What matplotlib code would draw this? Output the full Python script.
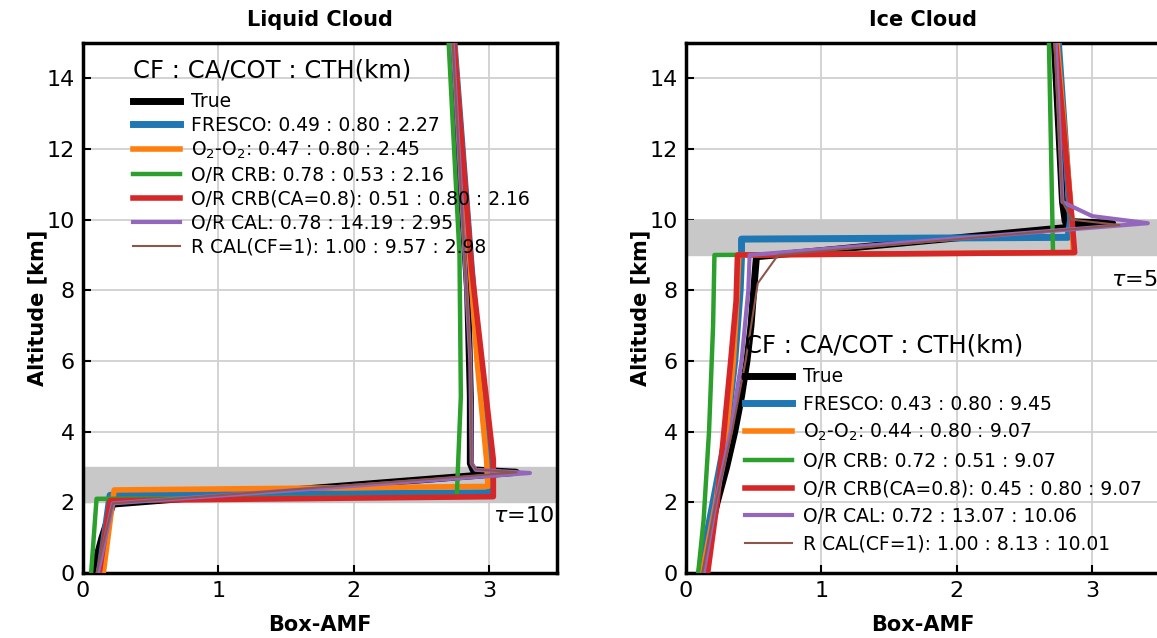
import numpy as np
import matplotlib
matplotlib.use('Agg')
import matplotlib.pyplot as plt

plt.rcParams['font.family'] = ['DejaVu Sans']

# 液态云 Box-AMF 廓线
liq_true_alt = [0, 1.0, 1.95, 2.85, 2.92, 3.1, 5, 8, 11, 15]
liq_true_amf = [0.07, 0.14, 0.22, 3.2, 2.88, 2.86, 2.86, 2.84, 2.79, 2.73]
liq_fresco_alt = [0, 2.2, 2.27, 3.0, 6, 15]
liq_fresco_amf = [0.12, 0.2, 3.0, 3.0, 2.92, 2.74]
liq_o2o2_alt = [0, 2.35, 2.45, 3.2, 6, 15]
liq_o2o2_amf = [0.15, 0.23, 2.99, 2.98, 2.91, 2.74]
liq_crb_alt = [0, 2.1, 2.16, 5, 9, 15]
liq_crb_amf = [0.06, 0.1, 2.76, 2.79, 2.78, 2.70]
liq_crb08_alt = [0, 2.05, 2.16, 3.2, 8.6, 15]
liq_crb08_amf = [0.12, 0.2, 3.03, 3.03, 2.87, 2.74]
liq_cal_alt = [0, 1.97, 2.83, 2.92, 3.1, 6, 15]
liq_cal_amf = [0.11, 0.22, 3.3, 2.9, 2.87, 2.86, 2.73]
liq_rcal_alt = [0, 1.97, 2.85, 2.93, 3.1, 6, 15]
liq_rcal_amf = [0.1, 0.22, 3.2, 2.9, 2.87, 2.86, 2.73]

# 冰云 Box-AMF 廓线
ice_true_alt = [0, 1, 2, 3, 4, 5, 6, 7, 8, 8.95, 9.9, 9.95, 10.5, 15]
ice_true_amf = [0.11, 0.17, 0.23, 0.3, 0.36, 0.41, 0.45, 0.48, 0.5, 0.52, 3.15, 2.8, 2.78, 2.72]
ice_fresco_alt = [0, 2, 4, 6, 8, 8.95, 9.45, 9.5, 10, 15]
ice_fresco_amf = [0.1, 0.2, 0.3, 0.36, 0.4, 0.41, 0.41, 2.82, 2.84, 2.75]
ice_o2o2_alt = [0, 2, 4, 6, 8, 9.0, 9.07, 10, 15]
ice_o2o2_amf = [0.12, 0.22, 0.3, 0.35, 0.38, 0.39, 2.86, 2.85, 2.74]
ice_crb_alt = [0, 1.5, 4, 7, 9.0, 9.07, 15]
ice_crb_amf = [0.09, 0.13, 0.17, 0.2, 0.21, 2.71, 2.68]
ice_crb08_alt = [0, 2, 4, 6, 7.7, 9.0, 9.07, 10, 15]
ice_crb08_amf = [0.16, 0.23, 0.28, 0.33, 0.37, 0.38, 2.87, 2.85, 2.73]
ice_cal_alt = [0, 2, 4, 6, 8, 9.0, 9.9, 10.1, 10.5, 15]
ice_cal_amf = [0.13, 0.22, 0.33, 0.41, 0.46, 0.47, 3.41, 3.0, 2.78, 2.73]
ice_rcal_alt = [0, 2, 4, 6, 8.2, 9.0, 9.85, 10.0, 10.5, 15]
ice_rcal_amf = [0.12, 0.22, 0.34, 0.44, 0.53, 0.68, 3.2, 2.85, 2.78, 2.72]

liq_labels = ['True',
              'FRESCO: 0.49 : 0.80 : 2.27',
              'O$_2$-O$_2$: 0.47 : 0.80 : 2.45',
              'O/R CRB: 0.78 : 0.53 : 2.16',
              'O/R CRB(CA=0.8): 0.51 : 0.80 : 2.16',
              'O/R CAL: 0.78 : 14.19 : 2.95',
              'R CAL(CF=1): 1.00 : 9.57 : 2.98']
ice_labels = ['True',
              'FRESCO: 0.43 : 0.80 : 9.45',
              'O$_2$-O$_2$: 0.44 : 0.80 : 9.07',
              'O/R CRB: 0.72 : 0.51 : 9.07',
              'O/R CRB(CA=0.8): 0.45 : 0.80 : 9.07',
              'O/R CAL: 0.72 : 13.07 : 10.06',
              'R CAL(CF=1): 1.00 : 8.13 : 10.01']

colors = ['black', '#1f77b4', '#ff7f0e', '#2ca02c', '#d62728', '#9467bd', '#8c564b']
widths = [5, 5, 4, 3.2, 4, 3, 1.5]

fig = plt.figure(figsize=(11.57, 6.38), dpi=100)
ax1 = fig.add_axes([83/1157, 1-573/638, 474/1157, 530/638])
ax2 = fig.add_axes([686/1157, 1-573/638, 474/1157, 530/638])


def draw(ax, profiles, labels, band, title, tau, tau_y, leg_xy, spacing, title_gap):
    ax.axhspan(band[0], band[1], color='#c8c8c8', zorder=1)
    for (amf, alt), lab, c, w in zip(profiles, labels, colors, widths):
        ax.plot(amf, alt, color=c, lw=w, label=lab, zorder=3)
    ax.set_xlim(0, 3.5)
    ax.set_ylim(0, 15)
    ax.set_xticks([0, 1, 2, 3])
    ax.set_yticks([0, 2, 4, 6, 8, 10, 12, 14])
    ax.grid(True, color='#d0d0d0', lw=1.3, zorder=0)
    ax.set_axisbelow(True)
    ax.tick_params(direction='in', length=6, width=1.5, labelsize=16, pad=6)
    for s in ax.spines.values():
        s.set_linewidth(2.5)
    ax.set_title(title, fontsize=15, fontweight='bold', pad=12)
    ax.set_xlabel('Box-AMF', fontsize=15, fontweight='bold', labelpad=10)
    ax.set_ylabel('Altitude [km]', fontsize=15, fontweight='bold', labelpad=-1)
    ax.text(3.48, tau_y, r'$\tau$=' + tau, ha='right', va='center', fontsize=16, zorder=4)
    leg = ax.legend(loc='upper left', bbox_to_anchor=leg_xy, frameon=False,
                    title='CF : CA/COT : CTH(km)', title_fontsize=17.5, fontsize=13.5,
                    handlelength=2.5, handletextpad=0.6, labelspacing=spacing,
                    borderpad=0, borderaxespad=0, alignment='left')
    leg._legend_box.sep = title_gap


liq_profiles = [(liq_true_amf, liq_true_alt), (liq_fresco_amf, liq_fresco_alt),
                (liq_o2o2_amf, liq_o2o2_alt), (liq_crb_amf, liq_crb_alt),
                (liq_crb08_amf, liq_crb08_alt), (liq_cal_amf, liq_cal_alt),
                (liq_rcal_amf, liq_rcal_alt)]
ice_profiles = [(ice_true_amf, ice_true_alt), (ice_fresco_amf, ice_fresco_alt),
                (ice_o2o2_amf, ice_o2o2_alt), (ice_crb_amf, ice_crb_alt),
                (ice_crb08_amf, ice_crb08_alt), (ice_cal_amf, ice_cal_alt),
                (ice_rcal_amf, ice_rcal_alt)]

draw(ax1, liq_profiles, liq_labels, (2, 3), 'Liquid Cloud', '10', 1.6, (0.105, 0.97), 0.26, 6.6)
draw(ax2, ice_profiles, ice_labels, (9, 10), 'Ice Cloud', '5', 8.3, (0.124, 0.452), 0.45, 7)

fig.savefig('out.png', dpi=100)
